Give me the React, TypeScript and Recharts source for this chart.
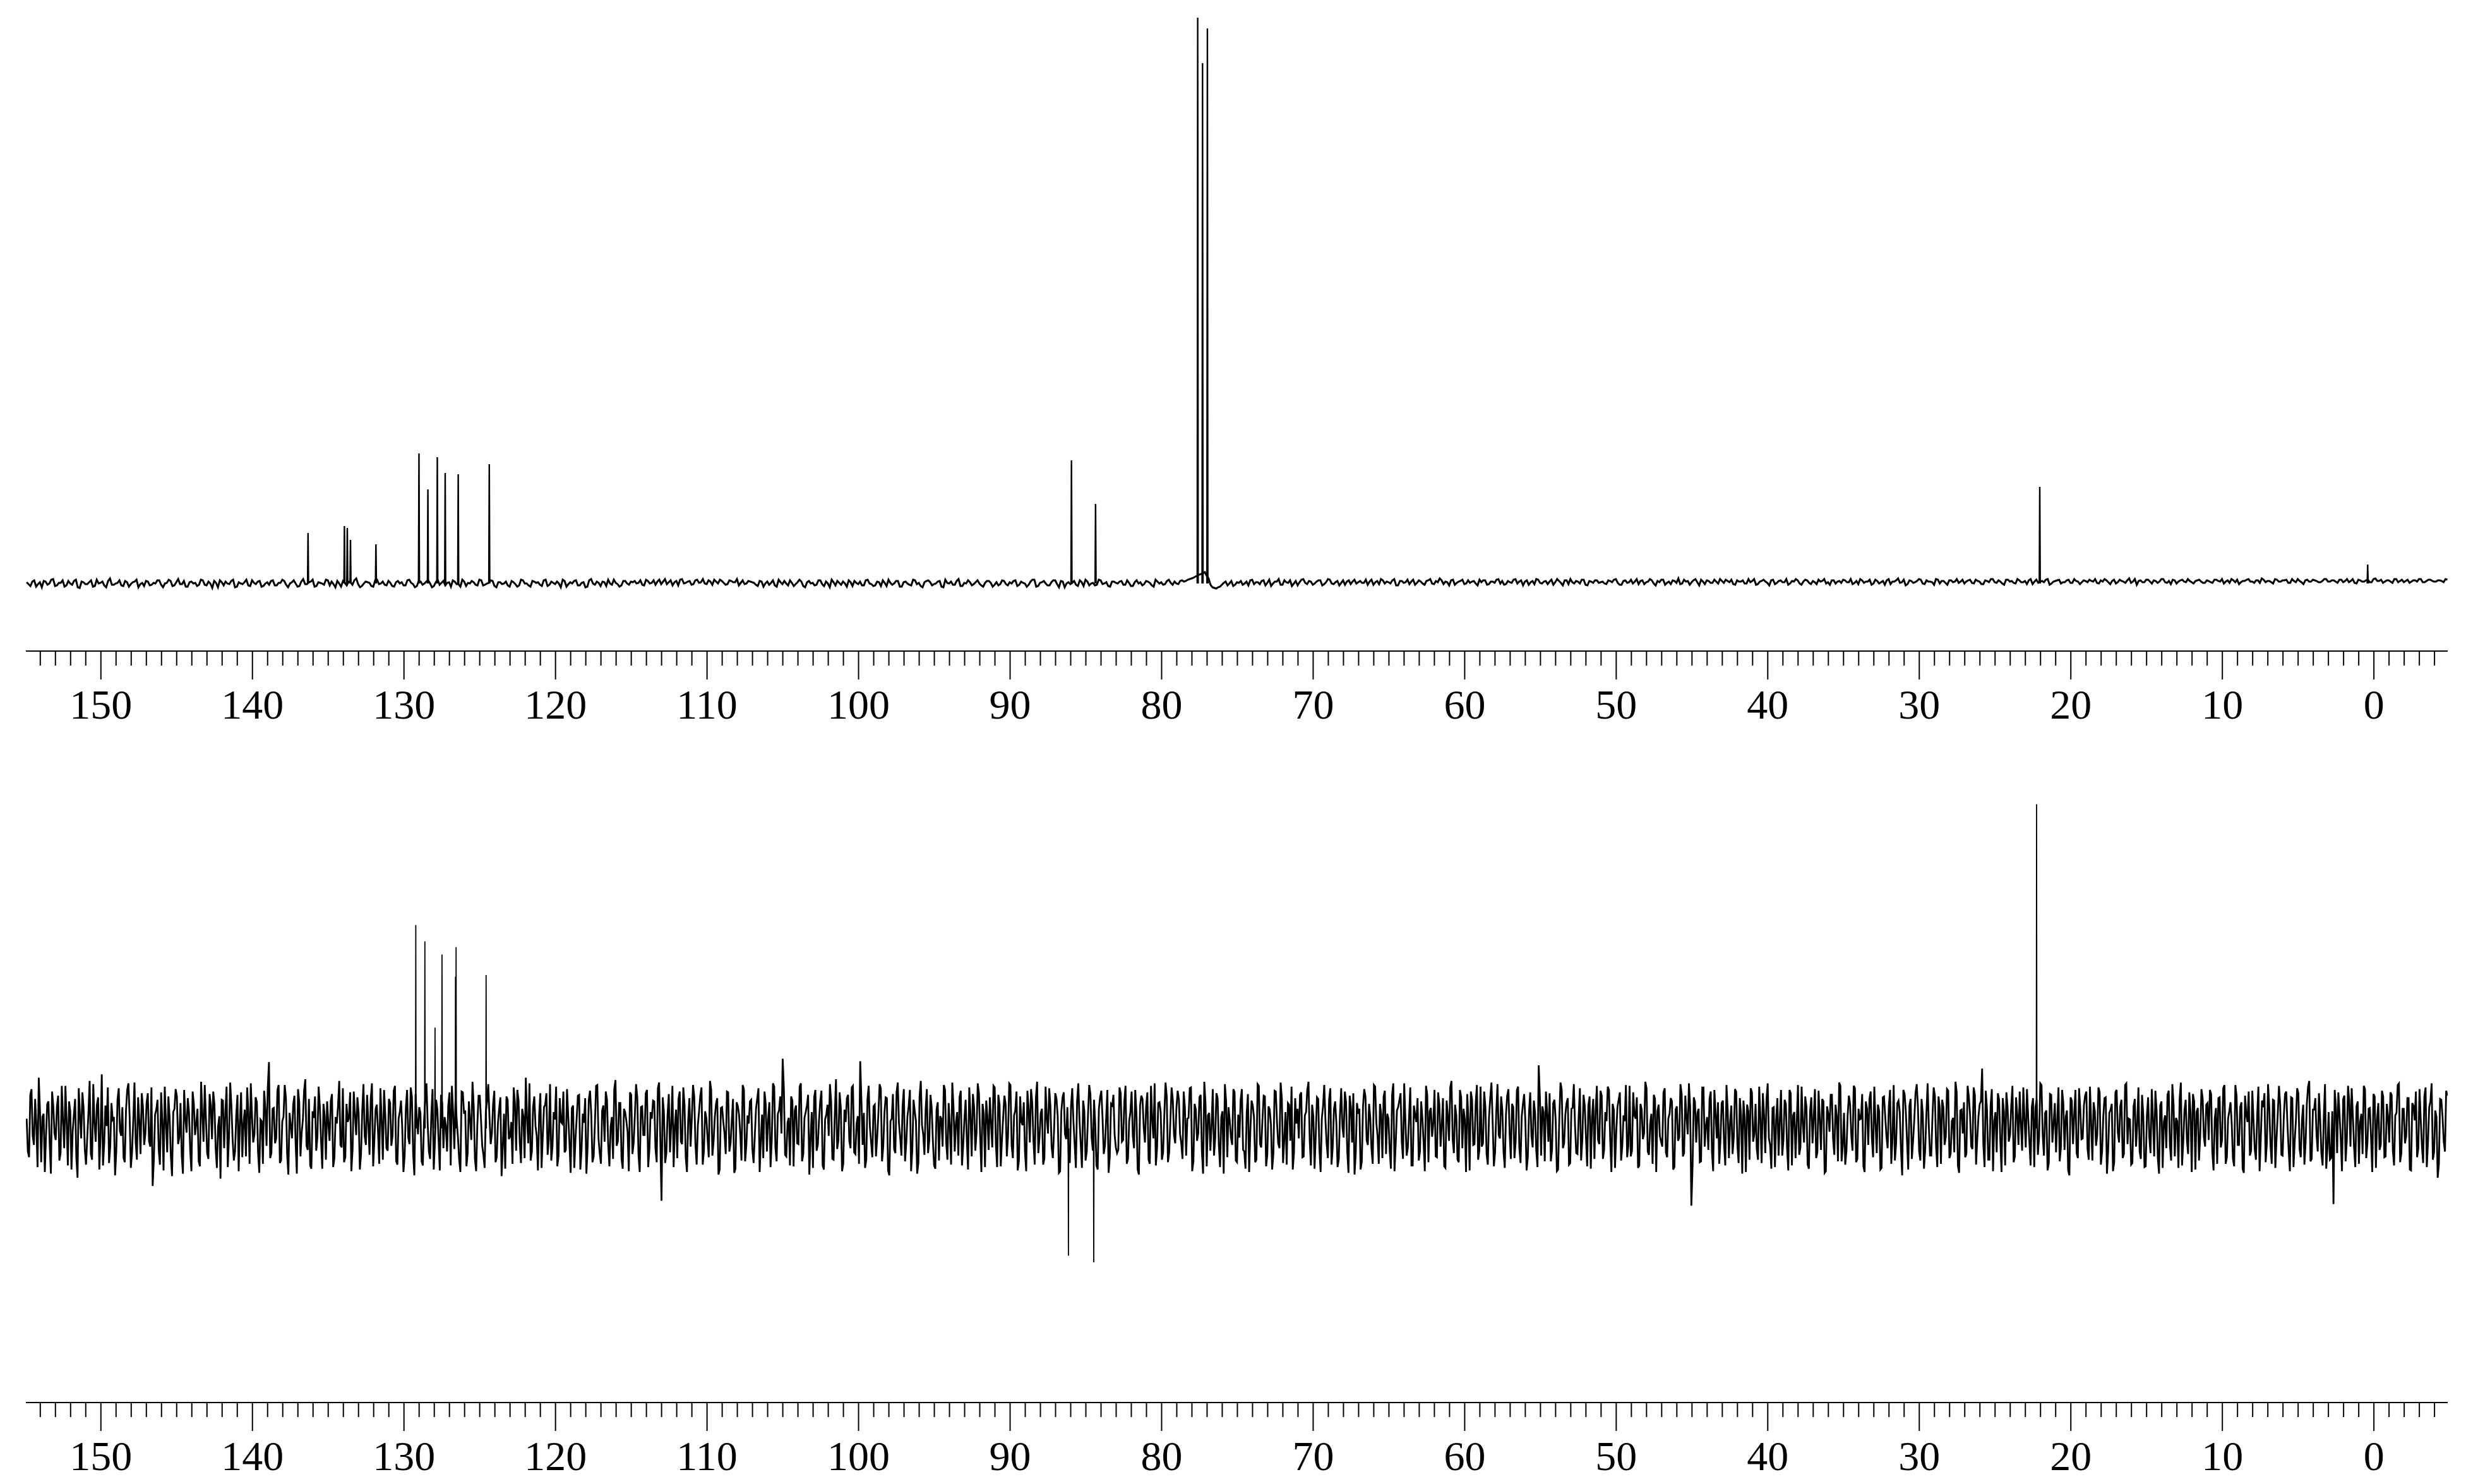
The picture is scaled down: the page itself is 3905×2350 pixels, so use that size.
import React from "react";
import { LineChart, Line, XAxis, YAxis } from "recharts";

// 13C spectrum (top) and DEPT-135 (bottom), chemical shift axis in ppm, reversed.
const PPM_START = 154.9;
const PPM_END = -4.85;
const AXIS_DOMAIN: [number, number] = [-4.87, 154.95];
const MAJOR_LABELS = [150, 140, 130, 120, 110, 100, 90, 80, 70, 60, 50, 40, 30, 20, 10, 0];
const TICKS = Array.from({ length: 159 }, (_, i) => 154 - i);

// peaks: [ppm, intensity above baseline], listed high ppm -> low ppm
const carbonPeaks: [number, number][] = [
  [136.33, 80], [133.93, 91], [133.74, 88], [133.53, 69], [131.85, 62],
  [129.01, 206], [128.42, 149], [127.8, 200], [127.28, 175], [126.42, 173],
  [124.37, 189], [85.95, 195], [84.36, 126],
  [77.62, 896], [77.3, 824], [76.98, 879],
  [22.05, 153], [0.41, 30],
];

const deptPeaks: [number, number][] = [
  [129.22, 248], [128.62, 228], [127.95, 123], [127.49, 212], [126.6, 185],
  [126.56, 221], [124.58, 187], [86.15, -155], [84.48, -163], [22.26, 395],
];

// baseline noise (left to right); the "Mid" lists sit between the main samples
const carbonNoise = [
  2, -4, 5, -1, -6, 3, 0, 7, -3, 1, -5, 4, -2, 6, -7, 2, -1, 5, -4, 0, 3, -6, 8, -2, 1, -3, 4, -5, 2, 6, -1, -4,
  3, -2, 0, 5, -6, 1, 4, -3, 7, -1, -5, 2, 0, -4, 6, -2, 3, -7, 1, 5, -3, 0, 4, -6, 2, -1, 6, -4, 1, 3, -5, 0,
  -2, 5, -3, 1, 4, -6, 2, 0, -4, 7, -1, 3, -5, 2, 0, 6, -3, -1, 4, -5, 1, 3, -2, 8, -6, 0, 2, -4, 5, -1, 3, -3,
  1, -5, 4, 2, -3, 6, -1, -4, 3, 0, 5, -6, 2, -2, 4, 1, -5, 3, -1, 6, -4, 0, 2, -3, 5, -2, 1, 4, -6, 2, 0, -3,
  4, -1, -3, 5, 0, -5, 3, 2, -4, 6, -2, 1, 3, -6, 4, -1, 0, 5, -3, 2, -5, 7, -2, 1, 3, -4, 0, 6, -1, -3, 4, -2,
  2, 0, 5, -3, 4, 1, -2, 6, 3, -1, 5, 2, -3, 7, 1, 4, -1, 6, 2, 0, 5, -2, 3, 6, 1, -1, 4, 2, -3, 5, 0, 3,
  1, -4, 3, 0, -2, 5, -5, 2, 4, -3, 1, -1, 6, -4, 2, 0, -3, 5, -1, 3, -6, 2, 4, -2, 0, 5, -4, 1, 3, -3, 6, -1,
  -3, 2, 5, -4, 1, 0, 4, -5, 3, -2, 6, -1, -4, 2, 5, -3, 0, 4, -6, 1, 3, -2, 7, -4, 0, 2, -1, 5, -3, 1, 4, -5,
  2, -1, 4, -3, 0, 5, -2, 1, -5, 3, 6, -4, 2, 0, -3, 5, -1, 4, -6, 2, 1, -2, 5, -4, 3, 0, -3, 6, -1, 2, -5, 3,
  0, 4, -2, 1, -4, 5, 2, -1, 3, -3, 6, 0, -2, 4, 1, 3, -1, 5, 4, 7, 9, 12, 15, 18, 8, -6, -8, -5, 1, -3, 4, -2,
  1, -2, 3, 5, -1, 2, 4, -3, 6, 0, 3, -2, 5, 1, -4, 4, 2, 7, -1, 3, 0, 5, -3, 2, 6, -1, 4, 1, -2, 5, 3, 0,
  4, 1, -2, 6, 2, -1, 5, 3, 0, 7, -3, 4, 2, -1, 6, 1, 3, -2, 5, 0, 4, 8, -1, 2, 5, -2, 3, 6, 0, 1, 4, -3,
  2, 5, -1, 3, 6, 0, -2, 4, 1, 7, 3, -3, 5, 2, -1, 6, 0, 4, 3, -2, 7, 1, 5, -1, 2, 4, 0, 6, -3, 3, 5, 1,
  3, -1, 4, 6, 1, -2, 5, 2, 0, 7, 4, -1, 3, 5, -3, 2, 6, 1, -1, 4, 8, 0, 3, -2, 5, 2, 6, -1, 4, 1, 3, 7,
  1, 4, 6, -2, 3, 5, 0, 2, 7, -1, 4, 3, -3, 6, 1, 5, 2, -2, 4, 7, 0, 3, 5, -1, 2, 6, 4, 0, -2, 5, 3, 1,
  5, 2, -1, 4, 7, 1, 3, -2, 6, 0, 4, 5, -1, 3, 8, 2, -3, 5, 1, 4, 6, -1, 3, 2, 7, 0, 4, -2, 5, 3, 1, 6,
  3, 6, 0, 4, -1, 5, 2, 7, 1, 3, -2, 6, 4, 0, 5, 2, -1, 7, 3, 1, 4, 6, -2, 3, 5, 0, 2, 6, 1, 4, -1, 5,
  2, 4, 7, 0, 3, 5, -1, 6, 2, 4, 1, 8, 3, -2, 5, 2, 6, 0, 4, 3, 7, 1, -1, 5, 3, 6, 2, 4, 0, 5, 3, 1,
  4, 1, 6, 3, 0, 5, 7, 2, -1, 4, 6, 3, 1, 5, 8, 2, 4, 0, 6, 3, 5, 1, 7, 2, 4, -1, 6, 3, 5, 2, 4, 7,
  3, 5, 1, 6, 4, 2, 7, 0, 5, 3, 6, 2, 8, 4, 1, 5, 3, 7, 2, 6, 4, 1, 5, 3, 7, 2, 6, 4, 3, 5, 2, 6,
];

const carbonNoiseMid = [
  -1, 3, -5, 2, 4, -2, 6, -4, 1, 5, -3, 0, 4, -6, 3, -1, 2, -5, 6, 1, -3, 4, -2, 0, 5, -4, 2, -1, 3, -6, 1, 4,
  -3, 1, 5, -2, 0, 6, -4, 2, -1, 4, -5, 3, 1, -2, 5, -3, 0, 4, -6, 2, 3, -1, 6, -5, 0, 2, -3, 5, -1, 4, -4, 2,
  4, -3, 1, 6, -2, 0, 5, -5, 3, -1, 2, 6, -4, 1, -2, 5, 3, -6, 0, 4, -3, 2, 5, -1, -4, 3, 1, -5, 6, 0, -2, 4,
  -4, 2, 0, -3, 5, 1, -6, 4, -2, 3, 0, -4, 6, 1, -3, 2, 5, -1, -5, 3, 1, 4, -2, 6, -3, 0, 5, -4, 2, -1, 3, -5,
  2, -5, 6, 0, -3, 4, 1, -2, 5, -4, 3, -1, 0, 6, -5, 2, 4, -3, 1, -6, 5, 0, 3, -4, 2, 6, -2, 1, -5, 4, 0, 3,
  4, 1, -2, 6, 0, 5, 3, -1, 7, 2, -3, 4, 6, 0, 3, -2, 5, 1, 7, -1, 3, 6, 0, 4, -2, 5, 2, 7, 1, -1, 4, 2,
  -2, 4, -5, 3, 1, -3, 6, -1, 0, 5, -4, 2, 3, -6, 4, 1, -2, 5, -4, 0, 6, -3, 1, 3, -5, 2, 4, -1, -3, 5, 0, -4,
  3, -4, 1, 6, -2, 4, -5, 2, 0, -3, 5, 1, -6, 4, 2, -1, 3, -5, 6, 0, -2, 4, -4, 1, 5, -3, 2, 0, -5, 4, 1, -2,
  -3, 5, -1, 2, 4, -4, 3, 0, -2, 6, -5, 1, 4, -3, 2, 5, -6, 3, 0, -1, 4, -4, 2, 6, -3, 1, -2, 5, 0, -4, 3, 1,
  3, -2, 5, -4, 2, 0, -3, 4, 1, -5, 3, 2, -1, 6, -2, 0, 4, 3, 6, 8, 11, 14, 16, 12, -2, -7, -6, -2, 3, 0, -4, 2,
  4, 0, -3, 6, 2, -1, 5, 1, -4, 3, 7, -2, 2, 5, 0, -3, 6, 1, 4, -2, 3, 5, -1, 7, 0, 2, -3, 5, 3, -1, 6, 2,
  1, 6, 3, -2, 4, 7, 0, 2, 5, -3, 4, 1, 6, 3, -2, 5, 0, 4, 7, -1, 2, 5, 3, -3, 6, 1, 4, -1, 5, 3, 0, 6,
  5, -2, 3, 1, 7, 4, -1, 2, 6, 0, 5, 3, -2, 4, 7, 1, 3, -1, 6, 2, 4, -3, 5, 7, 0, 3, 6, -2, 4, 1, 5, 2,
  0, 5, 2, 7, -2, 4, 1, 6, 3, -1, 5, 2, 7, 0, 4, 6, -2, 3, 5, 1, -1, 6, 4, 2, 7, -3, 3, 5, 1, 6, 0, 4,
  6, 2, -1, 5, 3, 0, 7, 4, -2, 3, 6, 1, 5, -1, 4, 2, 7, 0, 3, 5, -2, 6, 1, 4, -1, 3, 7, 2, 5, 0, 4, 6,
  2, 7, 1, -1, 5, 3, 6, 0, 4, 2, -2, 7, 3, 5, 1, 6, -1, 4, 2, 7, 0, 5, 3, -2, 6, 4, 1, 5, 2, 7, 3, 0,
  5, 1, 6, 3, -1, 4, 7, 2, 5, 0, 6, 3, 1, 7, 2, 4, 5, -1, 6, 3, 2, 7, 0, 4, 6, 2, 5, 1, 7, 3, 2, 4,
  6, 3, 1, 5, 7, 2, 4, 0, 6, 3, 5, 1, 7, 4, 2, 6, 3, 5, 1, 7, 2, 4, 6, 0, 5, 3, 7, 2, 4, 6, 1, 5,
  2, 6, 4, 7, 3, 1, 5, 6, 2, 4, 7, 3, 5, 1, 6, 4, 2, 7, 3, 5, 6, 1, 4, 7, 2, 5, 3, 6, 4, 2, 7, 3,
  5, 3, 6, 2, 7, 4, 1, 6, 3, 5, 2, 7, 4, 6, 3, 5, 1, 7, 4, 2, 6, 3, 5, 7, 2, 4, 6, 3, 5, 4, 7,
];

const deptNoise = [
  12, -35, 48, -20, 5, 62, -41, 18, -8, 33, -55, 27, -14, 40, -30, 9, 52, -45, 21, -3, 36, -60, 15, 44, -25,
  -12, 58, -38, 7, 29, -50, 66, -19, 3, -42, 31, 14, -27, 49, -9, -36, 22, 55, -48, 10, -17, 38, -31, 26, -6,
  43, -22, -70, 17, 35, -44, 8, 51, -29, 13, -58, 24, 39, -11, -33, 47, -5, 20, -52, 30, 6, -40, 57, -16, 11,
  -37, 28, 45, -24, 2, -61, 34, 19, -47, 56, -13, -28, 41, 8, -35, 23, 50, -43, 16, -7, 32, -54, 9, 46, -21,
  81, -30, 25, -12, 53, -39, 14, 37, -56, 4, 29, -18, 48, -34, 11, 60, -26, -45, 21, 39, -10, 27, -49, 15, 33,
  -15, 42, -36, 6, 58, -23, -41, 30, 13, -52, 45, -8, 19, -31, 54, -20, 7, 36, -46, 24, -3, 49, -38, 17, -27,
  31, -9, 52, -44, 20, 1, -33, 47, -19, 38, -57, 12, 26, -40, 9, 55, -28, 16, -50, 35, -14, 41, -24, 3, 28,
  -45, 19, 36, -11, -53, 44, 22, -30, 10, 57, -37, 5, 40, -21, -48, 33, 14, -6, 46, -35, 24, -58, 18, 39, -13,
  8, 50, -27, 34, -42, 15, 62, -18, -39, 26, 3, -51, 43, -9, 29, -32, 54, -22, 11, -46, 37, 6, -29, 48, -17,
  25, -48, 13, 41, -26, 7, -55, 35, 18, -34, 52, -12, -43, 28, 45, -20, 2, -37, 59, -15, 31, -49, 20, -4, 44,
  -31, 16, 38, -53, 27, -8, 47, -25, 12, 33, -41, 56, -88, 19, -30, 42, 5, -47, 23, 36, -16, 50, -35, 9, -22,
  53, -19, 4, 40, -44, 21, -12, 58, -33, 14, 37, -50, 26, -6, 45, -28, 10, -54, 32, 17, -39, 48, -21, 6, 35,
  -42, 24, 49, -15, -36, 30, 11, -47, 55, -23, 18, 39, 85, -32, 7, -45, 34, 22, -18, 51, -40, 13, 28, -56, 20,
  38, -27, 10, 46, -50, 17, -9, 33, -38, 60, -14, 25, -43, 8, 41, -24, 52, -31, 15, 82, -20, -48, 36, 2, -35,
  29, -11, 54, -40, 19, 37, -57, 12, -25, 44, 6, -33, 48, -18, 27, -52, 35, 9, -42, 58, -7, 23, -30, 41, -16,
  -49, 32, 15, -22, 47, -38, 3, 56, -28, 20, 38, -45, 11, -14, 50, -34, 26, -5, 43, -53, 18, 34, -26, 7, 52,
  -20, 41, -46, 14, 30, -9, 53, -36, 22, -51, 39, 4, -29, 46, -17, 31, -44, 57, -10, 24, -37, 12, 49, -23, -2,
  36, -54, 21, 44, -13, -31, 27, 8, -48, 55, -19, 34, -39, 16, 42, -27, 5, -50, 38, 13, -21, 47, -34, 28, -8,
  -30, 50, -16, 33, -43, 9, 45, -24, 18, -56, 40, 1, 27, -38, 52, -12, -45, 31, 20, -29, 56, -41, 10, 35, -18,
  46, -7, -37, 25, 12, 49, -52, 30, -15, 38, -28, 57, -46, 19, 4, -33, 43, -20, 14, -55, 33, 26, -11, 48, -39,
  17, 35, -26, -49, 42, -3, 28, -41, 54, -19, 11, 39, -32, 23, -50, 46, 8, -24, 37, -13, -44, 29, 51, -30, 6,
  -12, 44, -34, 20, 57, -45, 15, -8, 36, -53, 27, 10, -36, 49, -22, 33, -47, 18, 2, 45, -28, 40, -17, -56, 31,
  24, -40, 48, -14, 30, -25, 53, 7, -43, 18, 39, -31, 12, -49, 55, -18, 26, 43, -37, 9, -23, 50, -45, 16, 37,
  -28, 13, -52, 41, 21, -10, 47, -35, 29, 5, -46, 34, -15, 58, -30, 16, -41, 38, 24, -53, 12, 45, -20, 31, -38,
  51, -18, 26, -44, 37, 8, -29, 54, -12, 22, -48, 40, -6, 30, -36, 47, -23, 15, 42, -51, 19, -9, 34, -27, 77,
  -33, 20, 45, -16, -40, 31, 11, -50, 56, -24, 17, 37, -42, 25, 3, -31, 49, -14, 28, -46, 39, 14, -37, 52, -19,
  40, -26, 9, 47, -53, 23, -5, 35, -39, 16, 53, -21, -34, 44, 12, -48, 30, -13, 57, -28, 6, -43, 36, 21, -9,
  -22, 49, -35, 18, 33, -47, 27, -11, 42, -30, 14, 55, -94, 38, -17, 24, -40, 50, 3, -26, 45, -52, 19, 32, -15,
  34, -45, 22, 8, -31, 48, -20, 37, -55, 13, 29, -38, 44, -7, -25, 51, -42, 17, 35, -12, -49, 26, 10, -33, 47,
  -14, 30, -51, 43, 16, -36, 53, -23, 6, 39, -44, 21, -18, 48, -29, 11, 36, -54, 27, -4, 41, -32, 15, 56, -40,
  19, -27, 40, -8, 52, -41, 24, 12, -46, 33, -20, 45, -35, 7, 29, -50, 38, 15, -24, 47, -13, -39, 31, 20, -57,
  42, -15, 28, -37, 11, 54, -28, 36, -49, 18, 3, -33, 50, -22, 39, -43, 26, -10, 46, -31, 13, 57, -45, 22, -6,
  -35, 52, 17, -25, 41, -12, 30, 73, -47, 23, -38, 48, 9, -29, 35, -53, 20, 44, -16, 27, -41, 38, -20, 6, 50,
  -23, 14, -45, 37, 26, -32, 55, -8, 19, -51, 42, -17, 31, 10, -40, 47, -26, 22, -57, 34, 16, -30, 49, -13, 28,
  45, -38, 7, 32, -21, 50, -44, 15, 38, -27, 23, -52, 44, -5, 27, -36, 53, -19, 11, -42, 36, 4, -28, 41, -47,
  16, -11, 48, -34, 22, -55, 33, 8, -24, 46, -39, 29, 13, -48, 56, -16, 35, -31, 20, 42, -50, 25, -9, 37, -22,
  31, 47, -29, 12, -43, 38, -14, 53, -35, 21, 6, -46, 40, -20, 32, -54, 17, 45, -27, 9, -38, 51, -12, 26, -41,
  54, -20, 35, -48, 18, 29, -33, 42, 5, -52, 37, -15, 49, -25, 11, -44, 30, 58, -37, 23, -8, 43, -30, 14, -49,
  20, -36, -92, 27, 44, -13, 36, -40, 52, -22, 15, -47, 33, 8, -31, 48, -18, 25, -53, 39, 12, -26, 46, -35, 30,
  -17, 41, -45, 19, 55, -30, 24, -9, 37, -51, 28, 45, -24, 11, -42, 50, -16, 33, -38, 22, -60, 36, 14, -28, 40,
];

const deptNoiseMid = [
  -28, 41, -9, 36, -47, 22, 14, -53, 30, -18, 45, -6, 27, -39, 52, -24, 8, 33, -50, 17, -35, 49, -12, 25, -44,
  19, -31, 54, -16, 38, -7, -45, 28, 50, -22, 11, -57, 35, -3, 26, -41, 47, 15, -29, 56, -38, 9, 43, -20, 31,
  -15, 50, -37, 23, -26, 44, -51, 6, 39, -33, 20, 48, -19, 31, -55, 12, 37, -27, 45, -8, 24, -46, 18, 53, -30,
  42, -13, 29, -48, 15, 35, -24, 51, -10, 28, -39, 16, -52, 44, 7, -34, 21, 55, -17, 38, -29, 11, -43, 26, 49,
  -36, 24, -18, 47, -42, 9, 53, -31, 19, -12, 40, -55, 32, -5, 46, -21, 36, -49, 13, -27, 51, -15, 30, -38, 6,
  33, -47, 14, 27, -20, 49, -35, 8, 44, -26, 17, 38, -50, 22, -9, 41, -32, 55, -14, 29, -43, 10, 47, -24, 36,
  -21, 46, -40, 12, 34, -53, 25, -11, 50, -30, 42, -7, 19, -45, 35, 6, -37, 48, -16, 23, -51, 31, 14, -28, 44,
  52, -25, 9, -38, 45, 18, -46, 33, -14, 27, -52, 40, 11, -32, 21, 54, -19, 30, -41, 7, 38, -22, -49, 35, -10,
  -43, 31, 47, -17, 24, -36, 12, 55, -28, 39, -9, 16, -48, 26, 43, -13, -39, 20, 51, -33, 8, 45, -26, 15, -54,
  28, -12, 40, -50, 18, 37, -23, 46, -41, 5, 53, -30, 22, -16, 35, -46, 14, 48, -21, 31, -37, 24, 9, -52, 41,
  -18, 54, -32, 26, -8, 43, -47, 20, 34, -24, 49, -13, 38, -42, 17, -29, 52, 3, -36, 45, -19, 28, -53, 37, 12,
  39, -44, 21, 50, -27, 13, -35, 47, -15, 30, -56, 25, 8, -31, 44, -18, 36, -49, 27, -7, 53, -40, 16, 33, -25,
  -9, 36, -53, 17, 45, -28, 32, -14, 51, -40, 22, -6, 48, -34, 13, 39, -46, 28, -19, 55, -31, 20, 41, -12, -48,
  47, -20, 33, -45, 11, 29, 54, -37, 16, -25, 44, -52, 23, 37, -15, 50, -29, 6, -43, 34, 19, -38, 52, -17, 27,
  -34, 18, 49, -22, 38, -51, 9, 42, -30, 56, -11, 28, -40, 15, 47, -26, 21, -55, 39, 4, -32, 48, -14, 25, -45,
  23, -39, 12, 53, -18, 31, -44, 26, 7, -33, 46, -20, 35, -50, 17, 42, -27, 55, -9, 30, -47, 14, 38, -23, 50,
  -47, 29, -13, 40, -34, 55, -21, 16, 45, -39, 8, 32, -52, 24, 48, -15, 37, -30, 19, -44, 51, -6, 27, -36, 43,
  15, -52, 38, -7, 26, -42, 49, -19, 33, 10, -48, 21, -28, 53, -11, 35, -45, 24, 46, -31, 12, -54, 30, 41, -23,
  -26, 43, -14, 52, -37, 20, -9, 47, -50, 28, 36, -17, 44, -43, 11, 55, -24, 32, -38, 17, 39, -29, 50, -8, 25,
  36, -18, 45, -33, 13, 50, -40, 23, -6, 41, -55, 30, 16, -27, 48, -12, 37, -47, 21, 54, -35, 9, -20, 44, -41,
  -11, 48, -28, 19, -53, 34, 14, -38, 52, -23, 40, -46, 27, 5, -31, 45, -18, 56, -42, 20, 31, -15, -50, 37, 24,
  41, -35, 16, 47, -14, 29, -49, 38, -25, 12, 53, -19, 35, -44, 23, 7, -37, 49, -11, 32, -54, 26, 43, -30, 18,
  -50, 27, 39, -20, 13, -43, 51, -9, 30, -36, 46, 18, -26, 41, -52, 22, 34, -16, 55, -33, 14, -45, 28, 8, -39,
  33, -17, 52, -41, 25, 6, -34, 44, -22, 37, -48, 15, 50, -13, 29, -38, 47, -24, 11, 42, -51, 35, -19, 53, -27,
  -22, 45, -31, 14, 56, -46, 21, -8, 39, -29, 17, 48, -37, 26, -15, 51, -42, 30, 9, -35, 44, -23, 19, -47, 38,
  27, -40, 18, 43, -26, 35, -52, 12, 47, -18, 31, -44, 24, 54, -30, 15, -39, 41, -10, 28, -49, 36, 21, -14, 46,
  -37, 20, 51, -13, 30, -48, 26, 44, -21, 9, -35, 52, -27, 16, 38, -45, 23, -6, 49, -32, 18, 41, -53, 29, -16,
  44, -29, 12, 37, -50, 23, -15, 54, -34, 40, -7, 27, -46, 32, 19, -41, 50, -22, 14, 36, -28, 47, -12, -43, 31,
  -19, 53, -36, 28, -11, 45, -42, 17, 34, -53, 21, 49, -16, 30, -38, 12, 43, -30, 55, -20, 25, -47, 37, 10, -33,
  35, -24, 47, -45, 20, 8, -32, 51, -17, 26, -49, 38, 13, -36, 46, -26, 33, -52, 18, 41, -13, 29, -40, 52, -21,
  -44, 16, 30, -27, 49, -37, 11, 42, -53, 24, 36, -12, 51, -30, 21, -48, 39, -9, 27, -43, 53, -18, 34, -25, 47,
  21, -50, 36, -15, 43, 27, -39, 18, -26, 55, -33, 14, 40, -47, 25, 35, -20, 48, -36, 9, -29, 44, -54, 23, 32,
  -31, 39, -22, 50, -44, 15, 33, -19, 46, -38, 28, -52, 20, 43, -14, 37, -45, 26, -8, 52, -34, 17, 45, -27, 11,
  48, -16, 26, -47, 35, -10, 53, -33, 22, -42, 41, 6, -29, 50, -23, 31, 14, -51, 38, -19, 47, -36, 24, -12, 40,
  -25, 51, -39, 21, -8, 44, -28, 37, -55, 19, 30, -41, 47, -17, 35, -31, 55, 12, -44, 27, -22, 50, -37, 16, -46,
  38, -30, 13, 46, -36, 28, -48, 16, 41, -21, 54, -34, 9, 36, -45, 22, -14, 44, -53, 33, 20, -39, 48, -10, 29,
  -14, 42, -51, 25, 37, -23, 49, -43, 12, 32, -37, 53, -20, 26, -49, 40, 8, -33, 46, -25, 15, -52, 34, 43, -18,
  26, -43, 34, -12, 52, -32, 15, 45, -26, 38, -47, 10, 43, -35, 29, -16, 51, -40, 23, 37, -28, 12, -45, 54, -24,
  -38, 21, 47, -30, 17, -52, 40, -14, 33, 49, -24, 27, -43, 18, 52, -36, 24, -11, 42, -48, 31, -20, 39, -34, 15,
  44, -27, 16, 53, -41, 24, -18, 37, -50, 31, 10, -35, 48, -22, 39, -47, 26, 55, -29, 14, -43, 35, -16, 46,
];

type Pt = { ppm: number; y: number | null };

// main samples on an even ppm grid, mid samples halfway between neighbours
function noiseSeries(main: number[], mid: number[]): Pt[] {
  const step = (PPM_START - PPM_END) / (main.length - 1);
  const pts: Pt[] = [];
  main.forEach((v, i) => {
    const ppm = PPM_START - i * step;
    pts.push({ ppm, y: v });
    if (i < mid.length && i < main.length - 1) pts.push({ ppm: ppm - step / 2, y: mid[i] });
  });
  return pts;
}

// each peak is a narrow spike from the baseline; nulls keep the spikes apart
function peakSeries(peaks: [number, number][], half: number): Pt[] {
  const pts: Pt[] = [];
  peaks.forEach(([p, h]) => {
    pts.push({ ppm: p + half, y: 0 }, { ppm: p, y: h }, { ppm: p - half, y: 0 }, { ppm: p - half - 0.001, y: null });
  });
  return pts;
}

const carbonBase = noiseSeries(carbonNoise, carbonNoiseMid);
const carbonLines = peakSeries(carbonPeaks, 0.03);
const deptBase = noiseSeries(deptNoise, deptNoiseMid);
const deptLines = peakSeries(deptPeaks, 0.02);

function PpmTick(props: any) {
  const { x, y, payload } = props;
  const v = payload.value;
  const major = MAJOR_LABELS.includes(v);
  return (
    <g>
      <line x1={x} x2={x} y1={y} y2={y + (major ? 45 : 23)} stroke="#000" strokeWidth={2} />
      {major && (
        <text
          x={x}
          y={y + 107}
          textAnchor="middle"
          fontFamily="'Liberation Serif', 'Times New Roman', serif"
          fontSize={66}
          fill="#000"
        >
          {v}
        </text>
      )}
    </g>
  );
}

function Spectrum({
  base,
  lines,
  height,
  axisHeight,
  yDomain,
  baseWidth,
  peakWidth,
}: {
  base: Pt[];
  lines: Pt[];
  height: number;
  axisHeight: number;
  yDomain: [number, number];
  baseWidth: number;
  peakWidth: number;
}) {
  return (
    <LineChart width={3905} height={height} margin={{ top: 0, right: 29, bottom: 0, left: 41 }}>
      <XAxis
        dataKey="ppm"
        type="number"
        domain={AXIS_DOMAIN}
        reversed
        allowDataOverflow
        ticks={TICKS}
        interval={0}
        tickSize={0}
        tickMargin={0}
        tickLine={false}
        axisLine={{ stroke: "#000", strokeWidth: 2 }}
        tick={(p: any) => <PpmTick {...p} />}
        height={axisHeight}
      />
      <YAxis hide domain={yDomain} allowDataOverflow />
      <Line
        data={base}
        dataKey="y"
        type="linear"
        dot={false}
        stroke="#000"
        strokeWidth={baseWidth}
        isAnimationActive={false}
      />
      <Line
        data={lines}
        dataKey="y"
        type="linear"
        dot={false}
        stroke="#000"
        strokeWidth={peakWidth}
        isAnimationActive={false}
      />
    </LineChart>
  );
}

export default function App() {
  return (
    <div style={{ position: "absolute", left: 0, top: 0, width: 3905, height: 2350, background: "#fff" }}>
      <div style={{ position: "absolute", left: 0, top: 0 }}>
        <Spectrum
          base={carbonBase}
          lines={carbonLines}
          height={1161}
          axisHeight={130}
          yDomain={[-107, 924]}
          baseWidth={3}
          peakWidth={2.4}
        />
      </div>
      <div style={{ position: "absolute", left: 0, top: 1200 }}>
        <Spectrum
          base={deptBase}
          lines={deptLines}
          height={1150}
          axisHeight={129}
          yDomain={[-333.8, 451.6]}
          baseWidth={2.8}
          peakWidth={1.8}
        />
      </div>
    </div>
  );
}
